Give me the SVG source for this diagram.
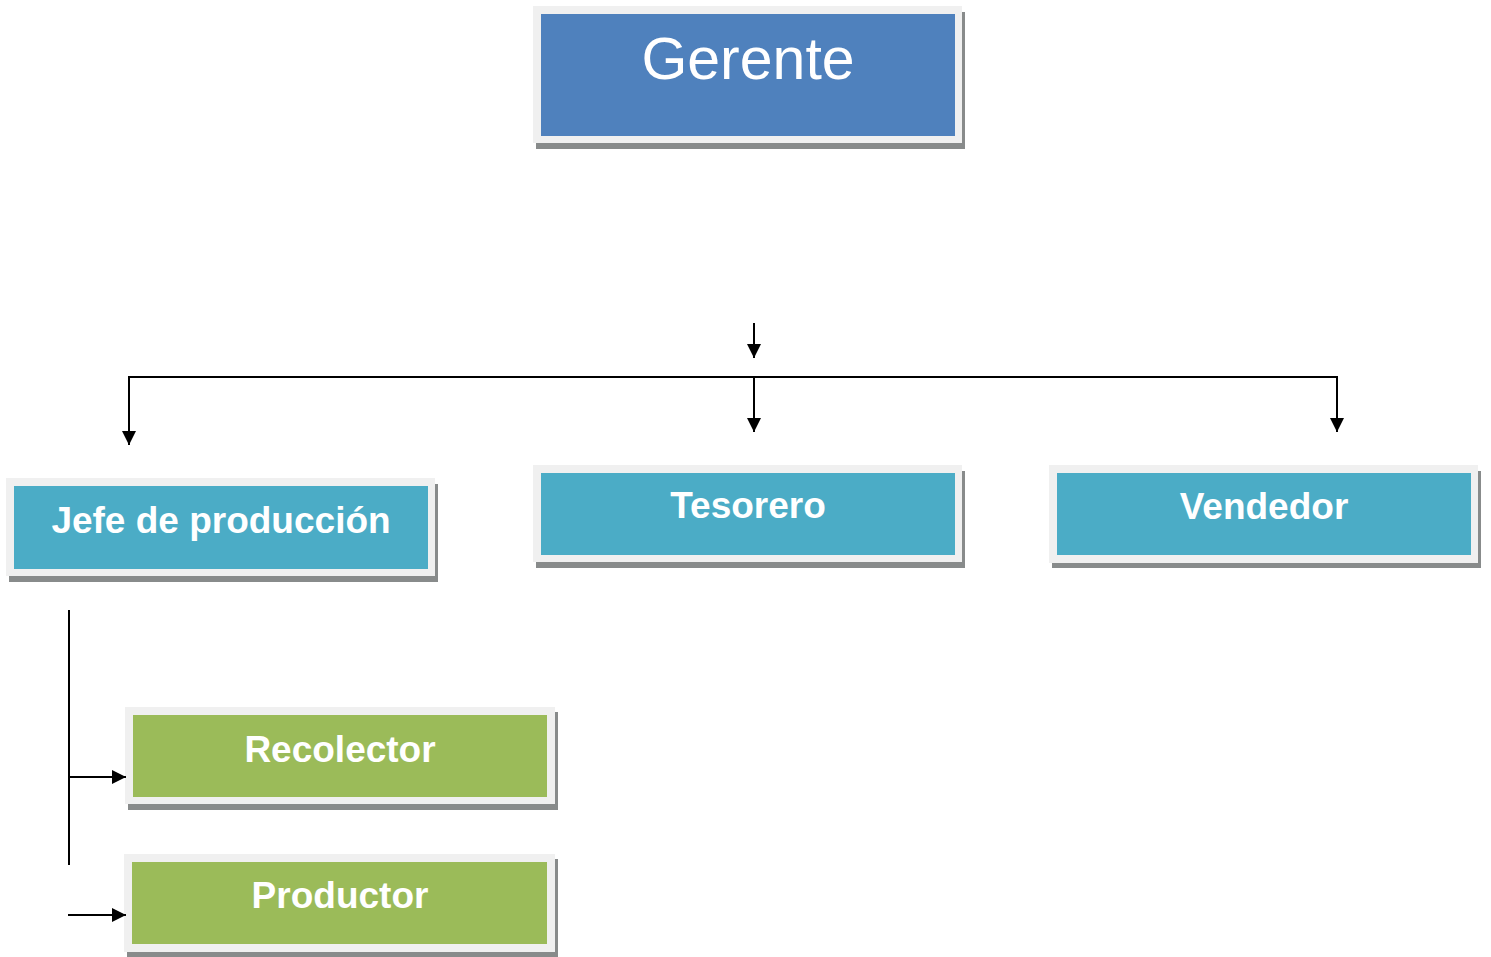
<svg xmlns="http://www.w3.org/2000/svg" width="1491" height="957" viewBox="0 0 1491 957">
<style>
.sh{fill:#888b8b}
.fr{fill:#f0f0f0}
.blue{fill:#4f81bd}
.teal{fill:#4bacc6}
.green{fill:#9bbb59}
.t{font-family:"Liberation Sans",Arial,sans-serif;fill:#ffffff;text-anchor:middle}
.b{font-weight:bold;font-size:37px}
.c{stroke:#000;stroke-width:2;fill:none}
</style>
<defs>
<marker id="ah" viewBox="0 0 14 14" refX="14" refY="7" markerWidth="14" markerHeight="14" markerUnits="userSpaceOnUse" orient="auto">
<path d="M0,0 L14,7 L0,14 z" fill="#000"/>
</marker>
</defs>
<rect width="1491" height="957" fill="#ffffff"/>
<g id="gerente">
<rect class="sh" x="536" y="12" width="429" height="137"/>
<rect class="fr" x="533" y="6" width="429" height="137"/>
<rect class="blue" x="541" y="14" width="414" height="122"/>
<text class="t" x="748" y="79" font-size="59">Gerente</text>
</g>
<g id="jefe">
<rect class="sh" x="9" y="484" width="429" height="98"/>
<rect class="fr" x="6" y="478" width="429" height="98"/>
<rect class="teal" x="14" y="486" width="414" height="83"/>
<text class="t b" x="221" y="533">Jefe de producción</text>
</g>
<g id="tesorero">
<rect class="sh" x="536" y="471" width="429" height="97"/>
<rect class="fr" x="533" y="465" width="429" height="97"/>
<rect class="teal" x="541" y="473" width="414" height="82"/>
<text class="t b" x="748" y="518">Tesorero</text>
</g>
<g id="vendedor">
<rect class="sh" x="1052" y="471" width="429" height="97"/>
<rect class="fr" x="1049" y="465" width="429" height="98"/>
<rect class="teal" x="1057" y="473" width="414" height="82"/>
<text class="t b" x="1264" y="519">Vendedor</text>
</g>
<g id="recolector">
<rect class="sh" x="128" y="712" width="430" height="98"/>
<rect class="fr" x="125" y="707" width="430" height="97"/>
<rect class="green" x="133" y="715" width="414" height="82"/>
<text class="t b" x="340" y="762">Recolector</text>
</g>
<g id="productor">
<rect class="sh" x="127" y="859" width="431" height="98"/>
<rect class="fr" x="124" y="854" width="431" height="98"/>
<rect class="green" x="132" y="862" width="415" height="82"/>
<text class="t b" x="340" y="908">Productor</text>
</g>
<g id="connectors">
<line class="c" x1="754" y1="323" x2="754" y2="358" marker-end="url(#ah)"/>
<polyline class="c" points="129,445 129,377 1337,377 1337,432" marker-end="url(#ah)"/>
<line class="c" x1="129" y1="377" x2="129" y2="445" marker-end="url(#ah)"/>
<line class="c" x1="754" y1="377" x2="754" y2="432" marker-end="url(#ah)"/>
<line class="c" x1="69" y1="610" x2="69" y2="865"/>
<line class="c" x1="69" y1="777" x2="126" y2="777" marker-end="url(#ah)"/>
<line class="c" x1="68" y1="915" x2="126" y2="915" marker-end="url(#ah)"/>
</g>
</svg>
